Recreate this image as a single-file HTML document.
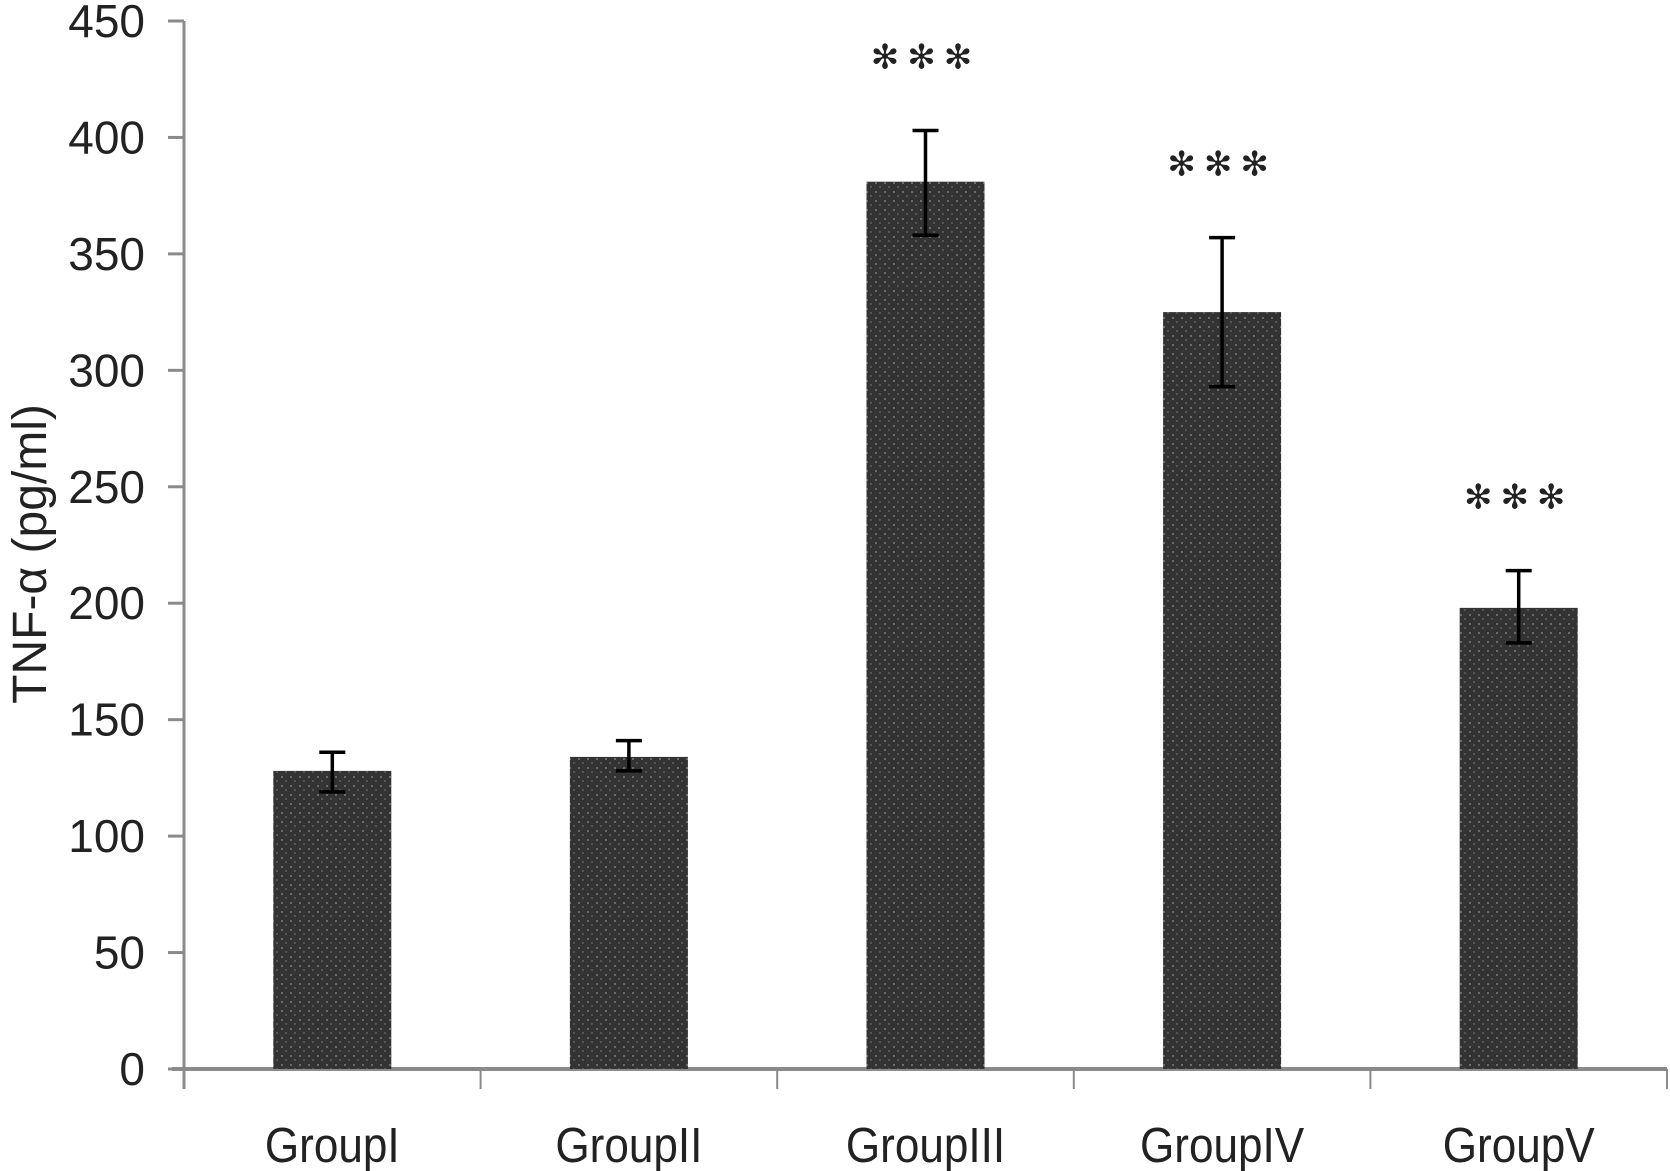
<!DOCTYPE html>
<html><head><meta charset="utf-8"><style>
html,body{margin:0;padding:0;background:#fff;}
svg{display:block;font-family:"Liberation Sans",Arial,sans-serif;}
</style></head><body>
<svg id="chart" width="1670" height="1171" viewBox="0 0 1670 1171" xmlns="http://www.w3.org/2000/svg">
<defs>
<pattern id="dots" width="9" height="9" patternUnits="userSpaceOnUse">
<rect width="9" height="9" fill="#333"/>
<rect x="2" y="2" width="2" height="2" fill="#6a6a6a"/>
<rect x="6" y="6" width="2" height="2" fill="#555"/>
</pattern>
</defs>
<g id="plot"></g>
</svg>
<script>
const categories = ["GroupI","GroupII","GroupIII","GroupIV","GroupV"];
const means = [128, 134, 381, 325, 198];
const errLow = [119, 128, 358, 293, 183];
const errHigh = [136, 141, 403, 357, 214];
const stars = ["", "", "***", "***", "***"];
const yTicks = [0,50,100,150,200,250,300,350,400,450];

const NS = "http://www.w3.org/2000/svg";
const g = document.getElementById("plot");
const X0 = 184, X1 = 1667, Y0 = 1069, Y450 = 21;
const band = (X1 - X0) / categories.length;
const barW = 118;
function y(v){ return Y0 - (v/450)*(Y0 - Y450); }
function xc(i){ return X0 + band*(i+0.5); }
function mk(tag, attrs){ const e = document.createElementNS(NS, tag); for (const k in attrs) e.setAttribute(k, attrs[k]); g.appendChild(e); return e; }

let ax = mk("line",{x1:X0,y1:Y450,x2:X0,y2:Y0+20,stroke:"#8a8a8a","stroke-width":3});


yTicks.forEach(v=>{
  let t = mk("line",{x1:X0-16,y1:y(v),x2:X0,y2:y(v),stroke:"#8a8a8a","stroke-width":3});
  
  
  let l = mk("text",{x:145,y:y(v)+16,"text-anchor":"end","font-size":46,fill:"#222"});
  l.textContent = v;
  
  
});
let xa = mk("line",{x1:X0-12,y1:Y0,x2:X1,y2:Y0,stroke:"#8a8a8a","stroke-width":4});


for (let i=1;i<=categories.length;i++){
  let t = mk("line",{x1:X0+band*i,y1:Y0,x2:X0+band*i,y2:Y0+20,stroke:"#8a8a8a","stroke-width":2});
  
  
}
categories.forEach((c,i)=>{
  const cx = xc(i);
  let b = mk("rect",{x:cx-barW/2,y:y(means[i]),width:barW,height:Y0-y(means[i]),fill:"url(#dots)"});
  
  
  let e = mk("path",{d:`M${cx},${y(errLow[i])}V${y(errHigh[i])}M${cx-13},${y(errHigh[i])}H${cx+13}M${cx-13},${y(errLow[i])}H${cx+13}`,stroke:"#000","stroke-width":3.5,fill:"none"});
  
  
  let l = mk("text",{x:cx,y:1162,"text-anchor":"middle","font-size":49,fill:"#222",transform:`translate(${cx},0) scale(0.9,1) translate(${-cx},0)`});
  l.textContent = c;
  
  
  if (stars[i]) {
    let s = mk("text",{x:cx,y:y(errHigh[i])-62,"text-anchor":"middle","font-size":34,"letter-spacing":"8",fill:"#222","font-family":"DejaVu Sans, sans-serif"});
    s.textContent = "✻✻✻";
    
    
  }
});
let yt = mk("text",{x:0,y:0,transform:"translate(46,554) rotate(-90)","text-anchor":"middle","font-size":48,fill:"#222"});
yt.textContent = "TNF-α (pg/ml)";


</script>
</body></html>
